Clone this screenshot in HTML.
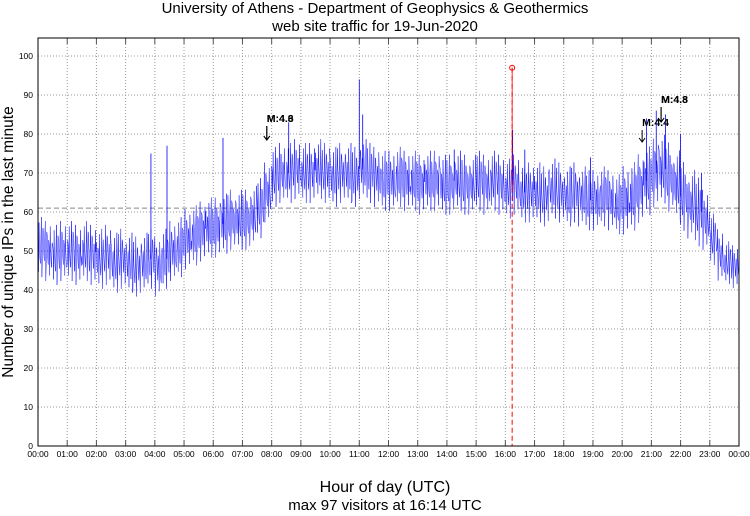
<!DOCTYPE html>
<html><head><meta charset="utf-8"><style>
body{margin:0;background:#fff;width:750px;height:511px;overflow:hidden}
svg{font-family:"Liberation Sans","DejaVu Sans",sans-serif}
</style></head><body>
<svg id="c" width="750" height="511" viewBox="0 0 750 511">
<text x="375" y="13" text-anchor="middle" font-size="15">University of Athens - Department of Geophysics &amp; Geothermics</text>
<text x="375" y="31" text-anchor="middle" font-size="15">web site traffic for 19-Jun-2020</text>
<text transform="translate(13,242) rotate(-90)" text-anchor="middle" font-size="15.5">Number of unique IPs in the last minute</text>
<text x="385" y="492" text-anchor="middle" font-size="16">Hour of day (UTC)</text>
<text x="385" y="510" text-anchor="middle" font-size="15">max 97 visitors at 16:14 UTC</text>
<g id="grid"></g><g id="series"></g><g id="marks"></g>
<rect x="38" y="38" width="701" height="408" fill="none" stroke="#000" stroke-width="1"/>
</svg>
<script>
const mid=[51,50,49,50,50,49,50,49,48,49,47,48,47,46,47,48,46,48,50,51,53,54,55,56,56,57,58,58,58,59,61,65,69,70,70,71,70,70,71,70,69,70,70,69,71,70,69,68,68,69,68,68,67,68,68,67,67,68,67,67,68,67,68,67,66,67,65,65,65,64,66,65,64,65,64,63,63,64,63,62,63,64,66,68,70,71,69,67,64,62,60,58,53,49,47,46];
const amp=[7,7,7,7,7,7,7,7,7,7,7,7,7,7,7,7,7,7,7,7,7,7,7,7,7,7,7,7,7,7,7,7,7,7,7,7,7,7,7,7,7,7,7,7,7,7,7,7,7,7,7,7,7,7,7,7,7,7,7,7,7,7,7,7,7,7,7,7,7,7,7,7,7,7,7,7,7,7,7,7,8,8,8,8,8,8,8,8,8,8,8,7,6,6,5,5];
const jitter=[0.2,-0.5,0.6,-0.3,1.1,-0.6,0.1,-0.9,0.4,-0.2,0.7,-1.1,0.3,-0.4,0.9];
const spikeMin=[232,265,380,515,660,667,855,974,975,1135,1250,1270,1320,1289,1363,1000];
const spikeVal=[75,77,79,83,94,85,76,97,81,74,84,86,80,85,70,76];
const quakeMin=[470,470,1241,1280,1280];
const quakeLbl=["M:4.6","M:4.3","M:4.4","M:4.8","M:4.3"];
const yTicks=[0,10,20,30,40,50,60,70,80,90,100];
const xTicks=["00:00","01:00","02:00","03:00","04:00","05:00","06:00","07:00","08:00","09:00","10:00","11:00","12:00","13:00","14:00","15:00","16:00","17:00","18:00","19:00","20:00","21:00","22:00","23:00","00:00"];
const meanVal=61, maxMin=974, maxVal=97;
const X=m=>38+m*701/1440, Y=v=>446-v*3.9;
const NS="http://www.w3.org/2000/svg";
function mk(p,t,a){const e=document.createElementNS(NS,t);for(const k in a)e.setAttribute(k,a[k]);p.appendChild(e);return e;}
const g=document.getElementById('grid'),s=document.getElementById('series'),mg=document.getElementById('marks');
yTicks.forEach(v=>{
 const l=mk(g,'line',{x1:38,x2:739,y1:Y(v),y2:Y(v),stroke:'#999','stroke-dasharray':'1,2'});
 
 
 const t=mk(g,'text',{x:33,y:Y(v)+3,'text-anchor':'end','font-size':8.5});t.textContent=v;
 
 
});
xTicks.forEach((lb,i)=>{
 const x=X(i*60);
 const l=mk(g,'line',{x1:x,x2:x,y1:38,y2:446,stroke:'#999','stroke-dasharray':'1,2'});
 
 
 mk(g,'line',{x1:x,x2:x,y1:440,y2:446,stroke:'#555'});
 mk(g,'line',{x1:x,x2:x,y1:38,y2:44,stroke:'#555'});
 const t=mk(g,'text',{x:x,y:457,'text-anchor':'middle','font-size':8.5});t.textContent=lb;
 
 
});
const ml=mk(g,'line',{x1:38,x2:739,y1:Y(meanVal),y2:Y(meanVal),stroke:'#888','stroke-dasharray':'5,3'});


let pts=[];
mid.forEach((m,b)=>{for(let j=0;j<15;j++){pts.push(X(b*15+j).toFixed(1)+','+Y(m+amp[b]*jitter[(j*7+b*4)%15]).toFixed(1));}});
const pl=mk(s,'polyline',{points:pts.join(' '),fill:'none',stroke:'#0000ff','stroke-width':0.45});


spikeMin.forEach((m,i)=>{
 const l=mk(s,'line',{x1:X(m),x2:X(m),y1:Y(mid[Math.floor(m/15)]),y2:Y(spikeVal[i]),stroke:m===maxMin?'#f00':'#00f','stroke-width':0.8});
 
 
});
const rl=mk(mg,'line',{x1:X(maxMin),x2:X(maxMin),y1:Y(maxVal),y2:446,stroke:'#f00','stroke-dasharray':'5,3'});


const rc=mk(mg,'circle',{cx:X(maxMin),cy:Y(maxVal),r:2.5,fill:'none',stroke:'#f00'});


const qy={470:[122,140],1241:[126,142],1280:[103,122]};
quakeMin.forEach((m,i)=>{
 const x=X(m),[ty,ay]=qy[m];
 const t=mk(mg,'text',{x:x,y:ty,'font-size':10.5,'font-weight':'bold'});t.textContent=quakeLbl[i];
 
 
 const a=mk(mg,'path',{d:`M${x} ${ty+4}V${ay}M${x-3} ${ay-4}L${x} ${ay}L${x+3} ${ay-4}`,stroke:'#000',fill:'none'});
 
 
});
</script>
</body></html>
